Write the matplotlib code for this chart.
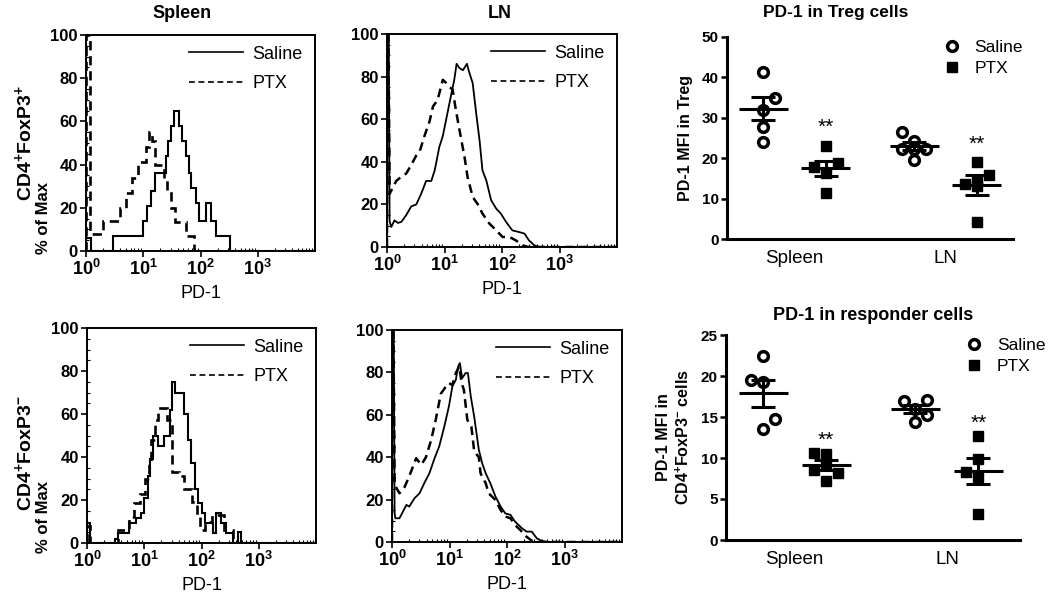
import matplotlib
matplotlib.use("Agg")
import matplotlib.pyplot as plt
import numpy as np
from matplotlib.lines import Line2D
from matplotlib.ticker import LogLocator, MultipleLocator, NullFormatter

plt.rcParams['font.family'] = ['Liberation Sans', 'DejaVu Sans']
plt.rcParams['mathtext.fontset'] = 'custom'
plt.rcParams['mathtext.rm'] = 'Liberation Sans'
plt.rcParams['mathtext.bf'] = 'Liberation Sans:bold'
plt.rcParams['mathtext.it'] = 'Liberation Sans:italic'

# ==========================================================
# FLOW HISTOGRAMS (x in log10 PD-1, y in % of max)
# ==========================================================
# spleen Treg: stepped histograms (bin edges in log10, heights)
sp_treg_sal_edges = [0, 0.08, 0.48, 1.00, 1.06, 1.13, 1.20, 1.39, 1.43, 1.49, 1.54, 1.63, 1.68,
                     1.74, 1.80, 1.84, 1.92, 1.98, 2.09, 2.19, 2.27, 2.52, 4.0]
sp_treg_sal_h = [6, 0, 7, 14, 21, 28, 36, 44, 51, 58, 65, 58, 51, 44, 36, 29, 22, 14, 22, 14, 7, 0]
sp_treg_ptx_edges = [0, 0.07, 0.30, 0.60, 0.70, 0.80, 0.90, 1.04, 1.10, 1.15, 1.21, 1.36, 1.42,
                     1.48, 1.55, 1.74, 1.88, 4.0]
sp_treg_ptx_h = [100, 8, 14, 20, 27, 34, 41, 48, 55, 51, 40, 33, 27, 20, 13.5, 7, 0]

# spleen responders: stepped histograms
sp_resp_sal_edges = [0, 0.05, 0.49, 0.55, 0.74, 0.86, 0.94, 1.00, 1.06, 1.10, 1.15, 1.24, 1.34,
                     1.45, 1.48, 1.54, 1.70, 1.76, 1.82, 1.88, 1.94, 2.00, 2.06, 2.20, 2.26,
                     2.34, 2.43, 2.55, 2.64, 2.69, 4.0]
sp_resp_sal_h = [9.5, 0, 2, 4.5, 9.3, 11.6, 14, 21, 31, 39, 50, 45, 50, 62, 75, 70, 60, 48, 37,
                 25, 18.6, 14, 9.5, 4.7, 14, 9.3, 4.7, 0, 5, 0]
sp_resp_ptx_edges = [0, 0.06, 0.54, 0.74, 0.82, 0.92, 1.02, 1.08, 1.12, 1.18, 1.24, 1.40, 1.48,
                     1.60, 1.70, 1.84, 1.92, 1.98, 2.06, 2.18, 2.40, 2.55, 4.0]
sp_resp_ptx_h = [8, 0, 6, 12, 18.6, 23, 30, 37, 48, 57, 63, 57, 33, 31, 25, 19, 12, 6, 10, 13, 6, 0]

# LN Treg: smooth traces
ln_treg_sal_x = [0.0, 0.005, 0.03, 0.045, 0.075, 0.13, 0.19, 0.25, 0.335, 0.42, 0.51, 0.595, 0.68,
                 0.77, 0.83, 0.91, 0.97, 1.06, 1.12, 1.17, 1.21, 1.26, 1.32, 1.39, 1.43, 1.49,
                 1.55, 1.61, 1.66, 1.73, 1.81, 1.90, 1.98, 2.07, 2.18, 2.30, 2.39, 2.47, 2.56,
                 2.65, 4.0]
ln_treg_sal_y = [0, 100, 100, 12, 9.4, 12.5, 11.3, 11.8, 15, 19, 20, 25, 31, 31, 36, 47, 52, 64,
                 72, 78.5, 86, 84, 83, 86, 82, 77, 63, 50, 36, 31, 22, 18, 15.7, 11.8, 7.8, 7,
                 6.3, 3.1, 0.8, 0, 0]
ln_treg_ptx_x = [0.0, 0.005, 0.025, 0.046, 0.16, 0.25, 0.335, 0.42, 0.51, 0.57, 0.65, 0.74, 0.80,
                 0.88, 0.97, 1.03, 1.09, 1.14, 1.20, 1.26, 1.35, 1.40, 1.49, 1.58, 1.66, 1.78,
                 1.90, 2.01, 2.13, 2.24, 2.36, 2.45, 4.0]
ln_treg_ptx_y = [0, 100, 100, 25, 31, 33, 34.5, 38.5, 43, 45, 52, 59, 66, 69, 78.5, 77, 75, 74,
                 64, 55, 42, 33, 23.5, 20, 15.7, 11, 7.8, 4.7, 4.7, 3.1, 0.8, 0, 0]

# LN responders: smooth traces
ln_resp_sal_x = [0.0, 0.005, 0.03, 0.045, 0.057, 0.13, 0.19, 0.25, 0.30, 0.39, 0.48, 0.56, 0.65,
                 0.74, 0.82, 0.91, 0.99, 1.05, 1.11, 1.15, 1.18, 1.22, 1.28, 1.32, 1.37, 1.43,
                 1.51, 1.57, 1.63, 1.71, 1.80, 1.89, 1.97, 2.06, 2.14, 2.26, 2.34, 2.43, 2.52,
                 2.60, 2.69, 4.0]
ln_resp_sal_y = [0, 100, 100, 14, 11.2, 11.2, 14.3, 17.5, 16.7, 20.6, 23, 27.7, 32.4, 39.5, 45,
                 54.5, 64, 73.4, 76.5, 82.8, 84.4, 77.3, 79.7, 79.7, 68.7, 59, 43.5, 37, 32.4,
                 27.7, 21.4, 16.7, 13.5, 12.8, 9.6, 6.5, 4.9, 4.9, 1.7, 0.6, 0, 0]
ln_resp_ptx_x = [0.0, 0.005, 0.025, 0.046, 0.13, 0.22, 0.30, 0.42, 0.51, 0.59, 0.68, 0.76, 0.85,
                 0.94, 0.99, 1.05, 1.11, 1.17, 1.21, 1.25, 1.31, 1.38, 1.43, 1.51, 1.54, 1.63,
                 1.68, 1.80, 1.89, 1.97, 2.06, 2.14, 2.23, 2.34, 2.43, 2.52, 4.0]
ln_resp_ptx_y = [0, 100, 100, 27, 23, 26, 31, 39.5, 36.4, 40, 48, 57.6, 70, 73.4, 75, 74, 79.7,
                 82.8, 75, 71.8, 57.6, 54.5, 42.7, 40, 32.4, 27.7, 23, 19.8, 15, 12, 11.2, 8,
                 5.7, 2.5, 0.6, 0, 0]

# ==========================================================
# MFI SCATTER DATA
# ==========================================================
groups = ["Spleen", "LN"]
treg_points = [[41.3, 34.8, 31.9, 27.8, 23.9],          # spleen saline
               [23.1, 18.7, 17.9, 16.3, 11.3],          # spleen PTX
               [26.5, 24.2, 22.2, 22.2, 22.2, 19.6],    # LN saline
               [19.0, 15.8, 14.4, 13.6, 13.0, 4.3]]     # LN PTX
treg_means = [32.2, 17.5, 23.0, 13.4]
treg_sems = [2.85, 1.85, 1.0, 2.5]
treg_stars = [27.6, 23.5]

resp_points = [[22.4, 19.5, 19.3, 14.7, 13.5],
               [10.65, 10.5, 9.1, 8.5, 8.2, 7.2],
               [16.9, 17.1, 16.0, 15.3, 14.4],
               [12.7, 9.9, 8.3, 7.7, 3.2]]
resp_means = [17.9, 9.15, 16.0, 8.4]
resp_sems = [1.65, 0.6, 0.5, 1.6]
resp_stars = [12.2, 14.2]

# horizontal spread of dots inside a column (layout only)
treg_spread = [[0, 1, 0, 0, 0], [0, 1, -1, 0, 0], [-1, 0, -1, 0, 1, 0], [0, 1, 0, -1, 0, 0]]
resp_spread = [[0, -1, 0, 1, 0], [-1, 0, 0, -1, 1, 0], [-1, 1, 0, 1, 0], [0, 0, -1, 0, 0]]

W, H = 1050, 608
fig = plt.figure(figsize=(W / 100, H / 100), dpi=100)


def rect(l, t, r, b):
    return [l / W, 1 - b / H, (r - l) / W, (b - t) / H]


DASH = (0, (3.5, 2.2))


def hist_axes(box):
    ax = fig.add_axes(box)
    ax.set_xscale('log')
    ax.set_xlim(1, 1e4)
    ax.set_ylim(0, 100)
    ax.set_xticks([1, 10, 100, 1000])
    ax.set_xticklabels([r'$\mathbf{10^{%d}}$' % i for i in range(4)])
    ax.xaxis.set_minor_locator(LogLocator(base=10, subs=range(2, 10), numticks=20))
    ax.xaxis.set_minor_formatter(NullFormatter())
    ax.set_yticks(range(0, 101, 20))
    ax.yaxis.set_minor_locator(MultipleLocator(5))
    ax.tick_params(which='major', direction='out', length=4, width=1.2, pad=2)
    ax.tick_params(axis='y', which='major', labelsize=12)
    ax.tick_params(axis='x', which='major', labelsize=13)
    ax.tick_params(which='minor', direction='in', length=2.5, width=0.8)
    for lbl in ax.get_yticklabels():
        lbl.set_fontweight('bold')
    for s in ax.spines.values():
        s.set_linewidth(1.4)
    ax.set_xlabel('PD-1', fontsize=13, labelpad=4)
    handles = [Line2D([], [], color='k', lw=1.2), Line2D([], [], color='k', lw=1.2, ls=DASH)]
    ax.legend(handles, ['Saline', 'PTX'], loc='upper right', bbox_to_anchor=(0.945, 0.95),
              frameon=False, fontsize=13, handlelength=3.0, labelspacing=0.7,
              handletextpad=0.5, borderpad=0, borderaxespad=0)
    return ax


def stairs(ax, h, edges, ls, lw):
    ax.stairs(h, 10 ** np.array(edges), baseline=0, color='k', lw=lw, ls=ls)


def trace(ax, x, y, ls, lw):
    ax.plot(10 ** np.array(x), y, color='k', lw=lw, ls=ls)


ax1 = hist_axes(rect(86, 35, 315, 251))
stairs(ax1, sp_treg_sal_h, sp_treg_sal_edges, '-', 1.5)
stairs(ax1, sp_treg_ptx_h, sp_treg_ptx_edges, DASH, 1.9)

ax2 = hist_axes(rect(387, 34, 617, 247))
trace(ax2, ln_treg_sal_x, ln_treg_sal_y, '-', 1.3)
trace(ax2, ln_treg_ptx_x, ln_treg_ptx_y, DASH, 1.8)

ax3 = hist_axes(rect(87, 328, 316, 543))
stairs(ax3, sp_resp_sal_h, sp_resp_sal_edges, '-', 1.5)
stairs(ax3, sp_resp_ptx_h, sp_resp_ptx_edges, DASH, 1.9)

ax4 = hist_axes(rect(392, 330, 622, 542))
trace(ax4, ln_resp_sal_x, ln_resp_sal_y, '-', 1.3)
trace(ax4, ln_resp_ptx_x, ln_resp_ptx_y, DASH, 1.8)

fig.text(182 / W, 1 - 13 / H, 'Spleen', ha='center', va='center', fontsize=13, fontweight='bold')
fig.text(500 / W, 1 - 13 / H, 'LN', ha='center', va='center', fontsize=13, fontweight='bold')
fig.text(24 / W, 1 - 143 / H, r'$\mathbf{CD4^{+}FoxP3^{+}}$', rotation=90, ha='center',
         va='center', fontsize=14)
fig.text(24 / W, 1 - 453 / H, r'$\mathbf{CD4^{+}FoxP3^{-}}$', rotation=90, ha='center',
         va='center', fontsize=14)
for yc in (218, 517):
    fig.text(44 / W, 1 - yc / H, '% of Max', rotation=90, ha='center', va='center',
             fontsize=12, fontweight='bold')

# ==========================================================
# SCATTER PANELS
# ==========================================================
positions = [1, 2, 3.42, 4.42]
step = 0.19


def scatter_axes(box, points, spread, means, sems, stars, ylim, ystep, xlim, ylabel):
    ax = fig.add_axes(box)
    for i, (vals, sp) in enumerate(zip(points, spread)):
        xs = positions[i] + np.array(sp) * step
        if i % 2 == 0:
            ax.plot(xs, vals, 'o', ms=7, mfc='white', mec='k', mew=2.5, zorder=3)
        else:
            ax.plot(xs, vals, 's', ms=7, color='k', zorder=3)
        ax.hlines(means[i], positions[i] - 0.39, positions[i] + 0.39, color='k', lw=2.2, zorder=4)
        ax.errorbar(positions[i], means[i], yerr=sems[i], fmt='none', ecolor='k',
                    elinewidth=2.2, capsize=8.5, capthick=2.2, zorder=4)
    for p, s in zip(positions[1::2], stars):
        ax.text(p, s, '**', ha='center', va='center', fontsize=15)
    ax.set_xlim(*xlim)
    ax.set_ylim(*ylim)
    ax.set_yticks(np.arange(ylim[0], ylim[1] + 0.1, ystep))
    ax.set_xticks([(positions[0] + positions[1]) / 2, (positions[2] + positions[3]) / 2])
    ax.set_xticklabels(groups, fontsize=13.5)
    ax.tick_params(axis='x', length=0, pad=8)
    ax.tick_params(axis='y', length=4, width=1.8, labelsize=11, pad=2)
    for lbl in ax.get_yticklabels():
        lbl.set_fontweight('bold')
    for side in ('top', 'right'):
        ax.spines[side].set_visible(False)
    for side in ('left', 'bottom'):
        ax.spines[side].set_linewidth(2.2)
    ax.set_ylabel(ylabel, fontsize=11.5, fontweight='bold', labelpad=6, linespacing=1.3)
    return ax


ax5 = scatter_axes(rect(727, 37, 1013, 239), treg_points, treg_spread, treg_means, treg_sems,
                   treg_stars, (0, 50), 10, (0.42, 5.0), 'PD-1 MFI in Treg')
ax6 = scatter_axes(rect(726, 335, 1020, 540), resp_points, resp_spread, resp_means, resp_sems,
                   resp_stars, (0, 25), 5, (0.41, 5.08),
                   'PD-1 MFI in\n' + r'CD4$^{\mathbf{+}}$FoxP3$^{\mathbf{-}}$ cells')

for ax, anchor in ((ax5, (0.755, 0.985)), (ax6, (0.815, 0.985))):
    hs = [Line2D([], [], ls='none', marker='o', ms=7, mfc='white', mec='k', mew=2.5),
          Line2D([], [], ls='none', marker='s', ms=7, color='k')]
    ax.legend(hs, ['Saline', 'PTX'], loc='upper left', bbox_to_anchor=anchor, frameon=False,
              fontsize=12.5, handlelength=1.0, handletextpad=0.8, labelspacing=0.35,
              borderpad=0, borderaxespad=0)

fig.text(836 / W, 1 - 12 / H, 'PD-1 in Treg cells', ha='center', va='center', fontsize=12.5,
         fontweight='bold')
fig.text(873 / W, 1 - 315 / H, 'PD-1 in responder cells', ha='center', va='center',
         fontsize=13, fontweight='bold')

fig.savefig('out.png', dpi=100)
